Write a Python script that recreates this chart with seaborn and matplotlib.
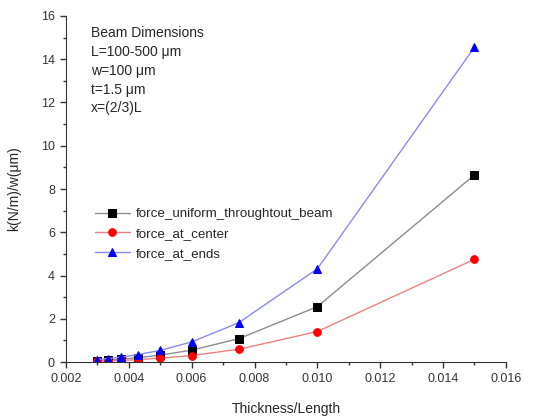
import pandas as pd
import matplotlib
matplotlib.use("Agg")
import matplotlib.pyplot as plt
import seaborn as sns
from matplotlib.ticker import MultipleLocator

ratio = [0.003, 0.00333, 0.00375, 0.00429, 0.005, 0.006, 0.0075, 0.010, 0.015]
uniform = [0.07, 0.095, 0.135, 0.20, 0.32, 0.55, 1.08, 2.56, 8.65]
center = [0.038, 0.052, 0.075, 0.11, 0.18, 0.30, 0.59, 1.41, 4.75]
ends = [0.116, 0.16, 0.227, 0.34, 0.54, 0.93, 1.82, 4.31, 14.55]

sns.set_style("ticks")
plt.rcParams["font.family"] = ["Liberation Sans", "DejaVu Sans"]

fig = plt.figure(figsize=(5.41, 4.2), dpi=100)
ax = fig.add_axes([0.122, 0.138, 0.813, 0.824])

series = [
    ("force_uniform_throughtout_beam", uniform, "#8c8c8c", "black", "s", 5.2),
    ("force_at_center", center, "#f08080", "red", "o", 5.5),
    ("force_at_ends", ends, "#8a8af2", "blue", "^", 6),
]
for name, vals, lc, mc, mk, ms in series:
    sns.lineplot(x=ratio, y=vals, ax=ax, color=lc, lw=1.0, marker=mk, markersize=ms,
                 markerfacecolor=mc, markeredgecolor=mc, label=name)

ax.set_xlim(0.002, 0.016)
ax.set_ylim(0, 16)
ax.xaxis.set_major_locator(MultipleLocator(0.002))
ax.xaxis.set_minor_locator(MultipleLocator(0.001))
ax.yaxis.set_major_locator(MultipleLocator(2))
ax.yaxis.set_minor_locator(MultipleLocator(1))
ax.xaxis.set_major_formatter(plt.FuncFormatter(lambda v, p: f"{v:.3f}"))
ax.tick_params(which="both", direction="out", labelsize=9, colors="#333333", width=1)
ax.tick_params(which="major", length=4.5)
ax.tick_params(which="minor", length=2.5)
for s in ["top", "right"]:
    ax.spines[s].set_visible(False)
for s in ["left", "bottom"]:
    ax.spines[s].set_color("#333333")

ax.set_xlabel("Thickness/Length", fontsize=10, labelpad=12)
ax.set_ylabel("k(N/m)/w(\u03bcm)", fontsize=10, labelpad=14)

ax.text(0.057, 0.972, "Beam Dimensions\nL=100-500 \u03bcm\nw=100 \u03bcm\nt=1.5 \u03bcm\nx=(2/3)L",
        transform=ax.transAxes, fontsize=10, va="top", ha="left", linespacing=1.45)

ax.legend(loc="upper left", bbox_to_anchor=(0.066, 0.445), frameon=False, fontsize=9.6,
          handlelength=2.6, handletextpad=0.45, labelspacing=0.55, borderaxespad=0,
          borderpad=0)

fig.savefig("out.png", dpi=100)
